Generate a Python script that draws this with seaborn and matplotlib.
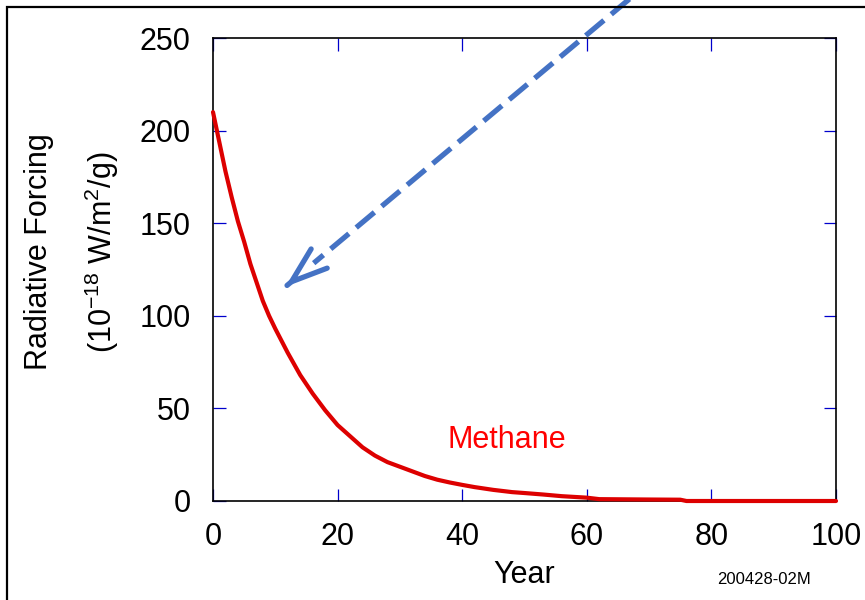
import numpy as np
import pandas as pd
import matplotlib
matplotlib.use("Agg")
import matplotlib.pyplot as plt
import matplotlib.patches as patches
import seaborn as sns

# values
years = [0, 1, 2, 3, 4, 5, 6, 7, 8, 9, 10, 12, 14, 16, 18, 20, 22, 24, 26, 28,
         30, 32, 34, 36, 38, 40, 42, 45, 48, 50, 53, 56, 60, 62, 66, 70, 75, 76,
         80, 90, 100]
forcing = [210, 194, 178, 164, 151, 140, 128, 118, 108, 100, 93, 80, 68, 58, 49, 41,
           35, 29, 24.5, 21, 18.5, 16, 13.5, 11.5, 10, 8.7, 7.5, 6, 4.8, 4.3, 3.5,
           2.6, 1.8, 1.0, 0.9, 0.8, 0.7, 0, 0, 0, 0]
x_ticks = [0, 20, 40, 60, 80, 100]
y_ticks = [0, 50, 100, 150, 200, 250]

# arrow annotation (data coords)
arrow_tail = (68.6, 276)
arrow_tip = (11.6, 115.6)

sns.set_theme(style="white")
plt.rcParams["font.family"] = ["Liberation Sans", "DejaVu Sans"]
plt.rcParams["mathtext.fontset"] = "custom"
plt.rcParams["mathtext.rm"] = "Liberation Sans"
plt.rcParams["mathtext.it"] = "Liberation Sans:italic"
plt.rcParams["text.color"] = "black"
plt.rcParams["axes.labelcolor"] = "black"
plt.rcParams["xtick.labelcolor"] = "black"
plt.rcParams["ytick.labelcolor"] = "black"

df = pd.DataFrame({"Year": years, "Forcing": forcing})

fig = plt.figure(figsize=(8.65, 6), dpi=100)
ax = fig.add_axes([213 / 865, 99 / 600, 623 / 865, 463 / 600])

sns.lineplot(data=df, x="Year", y="Forcing", ax=ax, color="#DD0000", lw=3.0,
             clip_on=False, zorder=5)

ax.set_xlim(0, 100)
ax.set_ylim(0, 250)
ax.set_xticks(x_ticks)
ax.set_yticks(y_ticks)
ax.tick_params(axis="both", which="both", direction="in", length=9, width=0.9,
               color="#0000CC", labelsize=22, labelcolor="black", top=True,
               right=True, bottom=True, left=True)
ax.tick_params(axis="y", pad=16)
ax.tick_params(axis="x", pad=15)
for s in ax.spines.values():
    s.set_color("black")
    s.set_linewidth(1.2)

ax.set_xlabel("Year", fontsize=22, labelpad=6, color="black")
ax.set_ylabel("Radiative Forcing\n(10$^{-18}$ W/m$^{2}$/g)", fontsize=22,
              linespacing=2.0, color="black")
ax.yaxis.set_label_coords(-0.147, 0.538)

ax.text(47.2, 33, "Methane", color="#FF0000", fontsize=22, ha="center", va="center")

# dashed arrow
vx = arrow_tail[0] - arrow_tip[0]
vy = arrow_tail[1] - arrow_tip[1]
ax.plot([arrow_tail[0], arrow_tip[0] + 0.08 * vx],
        [arrow_tail[1], arrow_tip[1] + 0.08 * vy],
        color="#4472C4", lw=3.8, ls=(0, (4.5, 1.8)), clip_on=False, zorder=6)
ax.annotate("", xy=arrow_tip,
            xytext=(arrow_tip[0] + 0.005 * vx, arrow_tip[1] + 0.005 * vy),
            arrowprops=dict(arrowstyle="->,head_length=26,head_width=9",
                            mutation_scale=1, color="#4472C4", lw=3.8,
                            shrinkA=0, shrinkB=0),
            annotation_clip=False, zorder=6)

fig.text(764 / 865, 1 - 580 / 600, "200428-02M", fontsize=12, ha="center",
         va="center", color="black")

# frame around the figure (cut at right and bottom)
fig.add_artist(patches.Rectangle((7 / 865, -0.1), 1.2, 1 - 6.5 / 600 + 0.1,
                                 transform=fig.transFigure, fill=False,
                                 lw=1.6, edgecolor="black"))

fig.savefig("out.png", dpi=100)
